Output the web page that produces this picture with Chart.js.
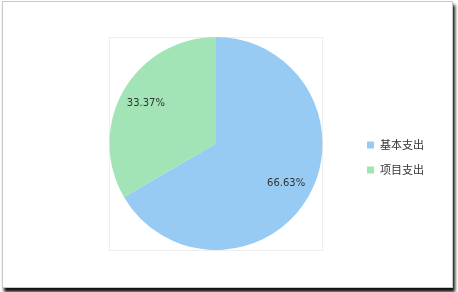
<!DOCTYPE html>
<html>
<head>
<meta charset="utf-8">
<script src="https://cdn.jsdelivr.net/npm/chart.js@4"></script>
<style>
  html, body { margin: 0; padding: 0; background: #fff; }
  #frame {
    position: absolute; left: 2px; top: 1px; width: 449px; height: 285px;
    border: 1px solid #c8c8c8;
    box-shadow: 2px 4px 3px #111;
    background: #fff;
  }
  #wrap { position: absolute; left: 0; top: 0; width: 458px; height: 292px; }
</style>
</head>
<body>
<div id="frame"></div>
<div id="wrap"><canvas id="pie" width="458" height="292"></canvas></div>
<script>
const categories = ['基本支出', '项目支出'];
const shares = [66.63, 33.37];
const sliceColors = ['#97cbf3', '#a2e4b5'];

// 饼图外框 + 百分比标签 + 右侧图例
const extras = {
  id: 'extras',
  beforeDraw(chart) {
    const a = chart.chartArea;
    const ctx = chart.ctx;
    ctx.save();
    ctx.strokeStyle = '#eeeeee';
    ctx.lineWidth = 1;
    ctx.strokeRect(a.left + 0.5, a.top + 0.5, a.right - a.left - 1, a.bottom - a.top);
    ctx.restore();
  },
  afterDatasetsDraw(chart) {
    const ctx = chart.ctx;
    const meta = chart.getDatasetMeta(0);
    ctx.save();
    ctx.font = '10px "DejaVu Sans", sans-serif';
    ctx.fillStyle = '#333';
    ctx.textAlign = 'center';
    ctx.textBaseline = 'middle';
    meta.data.forEach((arc, i) => {
      const mid = (arc.startAngle + arc.endAngle) / 2;
      const r = arc.outerRadius * 0.76;
      ctx.fillText(shares[i].toFixed(2) + '%', arc.x + Math.cos(mid) * r, arc.y + Math.sin(mid) * r);
    });
    // 图例
    ctx.font = '11px "Noto Sans CJK SC", sans-serif';
    ctx.textAlign = 'left';
    categories.forEach((name, i) => {
      const y = 145 + i * 25;
      ctx.fillStyle = sliceColors[i];
      ctx.fillRect(367, y - 3.5, 7, 7);
      ctx.fillStyle = '#333';
      ctx.fillText(name, 380, y);
    });
    ctx.restore();
  }
};

new Chart(document.getElementById('pie'), {
  type: 'pie',
  data: {
    labels: categories,
    datasets: [{
      data: shares,
      backgroundColor: sliceColors,
      borderWidth: 0
    }]
  },
  options: {
    responsive: false,
    animation: false,
    layout: { padding: { left: 109, right: 135, top: 37, bottom: 42 } },
    plugins: {
      legend: { display: false },
      tooltip: { enabled: false }
    }
  },
  plugins: [extras]
});
</script>
</body>
</html>
